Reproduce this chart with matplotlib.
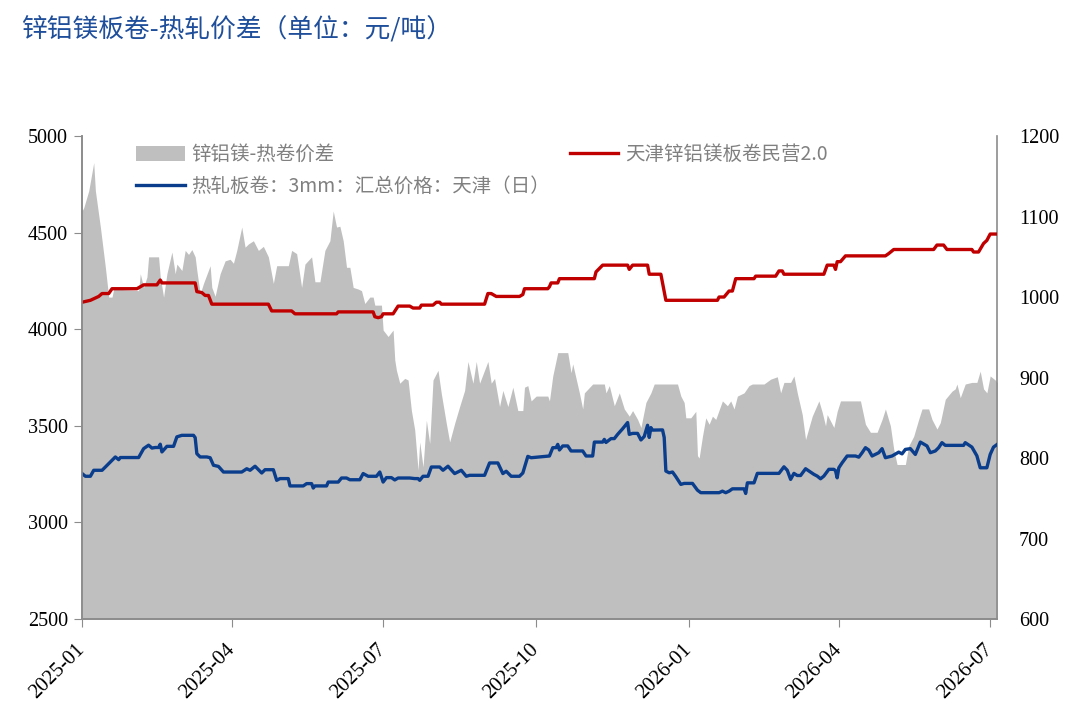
import numpy as np
import pandas as pd
import matplotlib
matplotlib.use('Agg')
import matplotlib.pyplot as plt
import matplotlib.dates as mdates

# 天津锌铝镁板卷民营2.0 (元/吨, axe gauche)
zam_dates = ['2025-01-01', '2025-01-06', '2025-01-11', '2025-01-13', '2025-01-17', '2025-01-19',
             '2025-02-03', '2025-02-05', '2025-02-07', '2025-02-15', '2025-02-17', '2025-02-18',
             '2025-03-10', '2025-03-11', '2025-03-14', '2025-03-16', '2025-03-18', '2025-03-20',
             '2025-04-23', '2025-04-25', '2025-05-07', '2025-05-09', '2025-06-03', '2025-06-04',
             '2025-06-25', '2025-06-26', '2025-06-28', '2025-06-30', '2025-07-01', '2025-07-07',
             '2025-07-10', '2025-07-17', '2025-07-19', '2025-07-23', '2025-07-24', '2025-07-31',
             '2025-08-02', '2025-08-04', '2025-08-05', '2025-08-31', '2025-09-02', '2025-09-04',
             '2025-09-07', '2025-09-21', '2025-09-23', '2025-09-24', '2025-10-08', '2025-10-09',
             '2025-10-10', '2025-10-14', '2025-10-15', '2025-11-05', '2025-11-06', '2025-11-10',
             '2025-11-25', '2025-11-26', '2025-11-28', '2025-12-07', '2025-12-08', '2025-12-15',
             '2025-12-16', '2025-12-18', '2026-01-18', '2026-01-19', '2026-01-22', '2026-01-25',
             '2026-01-27', '2026-01-29', '2026-02-09', '2026-02-10', '2026-02-22', '2026-02-24',
             '2026-02-26', '2026-02-27', '2026-03-23', '2026-03-25', '2026-03-29', '2026-03-30',
             '2026-03-31', '2026-04-02', '2026-04-05', '2026-04-29', '2026-05-01', '2026-05-04',
             '2026-05-28', '2026-05-30', '2026-06-03', '2026-06-05', '2026-06-20', '2026-06-21',
             '2026-06-24', '2026-06-27', '2026-06-29', '2026-07-01', '2026-07-06']
zam_vals = [4140, 4150, 4170, 4185, 4185, 4210,
            4210, 4220, 4230, 4230, 4255, 4240,
            4240, 4195, 4190, 4175, 4175, 4130,
            4130, 4095, 4095, 4080, 4080, 4090,
            4090, 4065, 4060, 4065, 4080, 4080,
            4120, 4120, 4110, 4110, 4125, 4125,
            4140, 4140, 4130, 4130, 4185, 4185,
            4170, 4170, 4180, 4210, 4210, 4220,
            4240, 4240, 4262, 4262, 4297, 4332,
            4332, 4310, 4332, 4332, 4285, 4285,
            4240, 4150, 4150, 4167, 4167, 4198,
            4198, 4262, 4262, 4275, 4275, 4302,
            4302, 4285, 4285, 4332, 4332, 4310,
            4350, 4350, 4380, 4380, 4392, 4413,
            4413, 4436, 4436, 4413, 4413, 4400,
            4400, 4444, 4460, 4493, 4493]

# 热轧板卷 3mm 天津 (元/吨, axe gauche)
hrc_dates = ['2025-01-01', '2025-01-03', '2025-01-06', '2025-01-08', '2025-01-13', '2025-01-15',
             '2025-01-21', '2025-01-23', '2025-01-24', '2025-02-04', '2025-02-07', '2025-02-10',
             '2025-02-12', '2025-02-14', '2025-02-16', '2025-02-17', '2025-02-18', '2025-02-21',
             '2025-02-25', '2025-02-27', '2025-03-02', '2025-03-09', '2025-03-10', '2025-03-11',
             '2025-03-13', '2025-03-17', '2025-03-19', '2025-03-21', '2025-03-24', '2025-03-27',
             '2025-04-07', '2025-04-10', '2025-04-12', '2025-04-15', '2025-04-19', '2025-04-21',
             '2025-04-26', '2025-04-28', '2025-04-30', '2025-05-05', '2025-05-06', '2025-05-14',
             '2025-05-16', '2025-05-19', '2025-05-20', '2025-05-21', '2025-05-28', '2025-05-29',
             '2025-06-04', '2025-06-06', '2025-06-09', '2025-06-11', '2025-06-17', '2025-06-19',
             '2025-06-22', '2025-06-27', '2025-06-29', '2025-07-01', '2025-07-03', '2025-07-06',
             '2025-07-08', '2025-07-10', '2025-07-17', '2025-07-20', '2025-07-22', '2025-07-23',
             '2025-07-25', '2025-07-28', '2025-07-30', '2025-08-04', '2025-08-06', '2025-08-09',
             '2025-08-13', '2025-08-17', '2025-08-20', '2025-08-22', '2025-08-31', '2025-09-03',
             '2025-09-08', '2025-09-11', '2025-09-13', '2025-09-16', '2025-09-21', '2025-09-23',
             '2025-09-26', '2025-09-28', '2025-10-09', '2025-10-11', '2025-10-13', '2025-10-14',
             '2025-10-15', '2025-10-17', '2025-10-20', '2025-10-22', '2025-10-29', '2025-10-31',
             '2025-11-04', '2025-11-05', '2025-11-10', '2025-11-11', '2025-11-12', '2025-11-15',
             '2025-11-17', '2025-11-19', '2025-11-22', '2025-11-25', '2025-11-26', '2025-11-28',
             '2025-12-01', '2025-12-03', '2025-12-05', '2025-12-07', '2025-12-08', '2025-12-09',
             '2025-12-10', '2025-12-16', '2025-12-17', '2025-12-18', '2025-12-20', '2025-12-22',
             '2025-12-24', '2025-12-27', '2025-12-29', '2026-01-03', '2026-01-06', '2026-01-08',
             '2026-01-19', '2026-01-21', '2026-01-23', '2026-01-25', '2026-01-27', '2026-02-03',
             '2026-02-04', '2026-02-05', '2026-02-09', '2026-02-11', '2026-02-24', '2026-02-27',
             '2026-03-01', '2026-03-03', '2026-03-05', '2026-03-07', '2026-03-09', '2026-03-12',
             '2026-03-15', '2026-03-17', '2026-03-19', '2026-03-21', '2026-03-23', '2026-03-26',
             '2026-03-29', '2026-03-30', '2026-03-31', '2026-04-01', '2026-04-03', '2026-04-06',
             '2026-04-11', '2026-04-13', '2026-04-15', '2026-04-17', '2026-04-19', '2026-04-21',
             '2026-04-25', '2026-04-27', '2026-04-29', '2026-05-03', '2026-05-07', '2026-05-09',
             '2026-05-11', '2026-05-14', '2026-05-17', '2026-05-20', '2026-05-24', '2026-05-26',
             '2026-05-29', '2026-05-31', '2026-06-02', '2026-06-04', '2026-06-15', '2026-06-16',
             '2026-06-20', '2026-06-23', '2026-06-25', '2026-06-29', '2026-07-01', '2026-07-03',
             '2026-07-06']
hrc_vals = [3253, 3239, 3239, 3270, 3270, 3287,
            3339, 3325, 3336, 3336, 3382, 3400,
            3385, 3388, 3388, 3405, 3365, 3394,
            3394, 3443, 3451, 3451, 3439, 3356,
            3339, 3339, 3335, 3296, 3290, 3261,
            3261, 3278, 3270, 3291, 3256, 3273,
            3273, 3218, 3227, 3227, 3189, 3189,
            3201, 3201, 3178, 3189, 3189, 3209,
            3209, 3230, 3230, 3221, 3221, 3253,
            3239, 3239, 3261, 3209, 3232, 3232,
            3220, 3230, 3230, 3227, 3227, 3218,
            3239, 3239, 3287, 3287, 3270, 3291,
            3253, 3270, 3239, 3244, 3244, 3308,
            3308, 3253, 3265, 3239, 3239, 3256,
            3342, 3335, 3344, 3387, 3387, 3404,
            3375, 3396, 3396, 3370, 3370, 3344,
            3344, 3416, 3416, 3430, 3414, 3434,
            3434, 3456, 3485, 3517, 3456, 3461,
            3461, 3427, 3445, 3503, 3440, 3491,
            3478, 3479, 3440, 3266, 3257, 3261,
            3237, 3197, 3202, 3202, 3167, 3154,
            3154, 3162, 3154, 3162, 3174, 3174,
            3150, 3205, 3205, 3254, 3254, 3288,
            3270, 3223, 3254, 3243, 3243, 3278,
            3261, 3249, 3240, 3226, 3240, 3275,
            3275, 3268, 3231, 3283, 3309, 3344,
            3344, 3338, 3361, 3387, 3375, 3344,
            3361, 3382, 3335, 3344, 3364, 3355,
            3378, 3382, 3352, 3416, 3396, 3361,
            3370, 3387, 3413, 3399, 3399, 3413,
            3390, 3345, 3283, 3283, 3352, 3390,
            3409]

# 锌铝镁-热卷价差 (元/吨, axe droite)
spread_dates = ['2025-01-01', '2025-01-02', '2025-01-05', '2025-01-08', '2025-01-09', '2025-01-12',
                '2025-01-15', '2025-01-17', '2025-01-19', '2025-01-20', '2025-02-04', '2025-02-05',
                '2025-02-07', '2025-02-09', '2025-02-10', '2025-02-16', '2025-02-17', '2025-02-19',
                '2025-02-21', '2025-02-24', '2025-02-26', '2025-02-27', '2025-03-02', '2025-03-04',
                '2025-03-06', '2025-03-08', '2025-03-10', '2025-03-11', '2025-03-13', '2025-03-15',
                '2025-03-19', '2025-03-20', '2025-03-22', '2025-03-25', '2025-03-28', '2025-03-31',
                '2025-04-02', '2025-04-04', '2025-04-07', '2025-04-09', '2025-04-11', '2025-04-14',
                '2025-04-17', '2025-04-20', '2025-04-23', '2025-04-26', '2025-04-28', '2025-05-05',
                '2025-05-07', '2025-05-10', '2025-05-13', '2025-05-15', '2025-05-19', '2025-05-21',
                '2025-05-24', '2025-05-27', '2025-05-30', '2025-06-01', '2025-06-03', '2025-06-05',
                '2025-06-07', '2025-06-09', '2025-06-11', '2025-06-13', '2025-06-16', '2025-06-18',
                '2025-06-20', '2025-06-23', '2025-06-25', '2025-06-26', '2025-06-30', '2025-07-01',
                '2025-07-04', '2025-07-07', '2025-07-08', '2025-07-09', '2025-07-11', '2025-07-14',
                '2025-07-16', '2025-07-18', '2025-07-20', '2025-07-22', '2025-07-23', '2025-07-25',
                '2025-07-27', '2025-07-29', '2025-07-31', '2025-08-03', '2025-08-05', '2025-08-08',
                '2025-08-10', '2025-08-13', '2025-08-16', '2025-08-19', '2025-08-21', '2025-08-24',
                '2025-08-26', '2025-08-28', '2025-09-02', '2025-09-04', '2025-09-06', '2025-09-09',
                '2025-09-11', '2025-09-14', '2025-09-17', '2025-09-20', '2025-09-23', '2025-09-24',
                '2025-09-26', '2025-09-28', '2025-10-01', '2025-10-08', '2025-10-09', '2025-10-11',
                '2025-10-14', '2025-10-20', '2025-10-22', '2025-10-23', '2025-10-27', '2025-10-29',
                '2025-10-30', '2025-11-04', '2025-11-11', '2025-11-12', '2025-11-14', '2025-11-17',
                '2025-11-20', '2025-11-23', '2025-11-26', '2025-11-28', '2025-12-01', '2025-12-03',
                '2025-12-06', '2025-12-09', '2025-12-11', '2025-12-25', '2025-12-27', '2025-12-29',
                '2025-12-30', '2026-01-02', '2026-01-05', '2026-01-06', '2026-01-07', '2026-01-09',
                '2026-01-11', '2026-01-13', '2026-01-15', '2026-01-17', '2026-01-21', '2026-01-24',
                '2026-01-26', '2026-01-28', '2026-01-30', '2026-02-03', '2026-02-06', '2026-02-08',
                '2026-02-15', '2026-02-19', '2026-02-23', '2026-02-25', '2026-02-27', '2026-03-03',
                '2026-03-05', '2026-03-07', '2026-03-10', '2026-03-12', '2026-03-16', '2026-03-20',
                '2026-03-22', '2026-03-24', '2026-03-25', '2026-03-29', '2026-03-31', '2026-04-02',
                '2026-04-14', '2026-04-17', '2026-04-20', '2026-04-24', '2026-04-27', '2026-04-29',
                '2026-04-30', '2026-05-02', '2026-05-04', '2026-05-06', '2026-05-11', '2026-05-13',
                '2026-05-16', '2026-05-19', '2026-05-21', '2026-05-25', '2026-05-27', '2026-05-30',
                '2026-06-01', '2026-06-04', '2026-06-08', '2026-06-10', '2026-06-11', '2026-06-13',
                '2026-06-16', '2026-06-20', '2026-06-23', '2026-06-25', '2026-06-27', '2026-06-29',
                '2026-07-01', '2026-07-04', '2026-07-06']
spread_vals = [1107, 1111, 1132, 1167, 1132, 1087,
               1037, 1000, 1000, 1010, 1008, 1029,
               1012, 1025, 1050, 1050, 1025, 1000,
               1029, 1056, 1029, 1041, 1033, 1058,
               1053, 1059, 1050, 1033, 1004, 1017,
               1039, 1012, 1001, 1029, 1045, 1047,
               1042, 1058, 1087, 1062, 1066, 1070,
               1058, 1063, 1050, 1017, 1039, 1039,
               1058, 1054, 1012, 1041, 1050, 1019,
               1019, 1058, 1070, 1107, 1087, 1088,
               1070, 1037, 1037, 1012, 1010, 1008,
               992, 1000, 1000, 990, 990, 959,
               951, 959, 922, 909, 893, 899,
               897, 859, 835, 785, 820, 789,
               847, 818, 897, 909, 880, 843,
               820, 843, 864, 884, 920, 893,
               920, 893, 920, 893, 899, 864,
               884, 864, 888, 859, 859, 888,
               890, 871, 877, 877, 871, 902,
               931, 931, 906, 917, 881, 861,
               881, 892, 892, 881, 890, 865,
               881, 861, 852, 859, 848, 838,
               869, 881, 892, 892, 877, 869,
               850, 850, 858, 803, 800, 827,
               850, 842, 852, 848, 871, 865,
               871, 861, 877, 881, 890, 892,
               892, 898, 901, 881, 894, 894,
               902, 881, 854, 823, 852, 871,
               857, 840, 854, 838, 858, 871,
               871, 842, 832, 832, 848, 861,
               854, 840, 811, 792, 792, 815,
               827, 848, 861, 861, 848, 836,
               844, 873, 883, 886, 892, 875,
               892, 894, 894, 908, 886, 881,
               902, 897, 892]

plt.rcParams['font.family'] = ['Noto Sans CJK SC', 'DejaVu Sans']

fig = plt.figure(figsize=(10.8, 7.24), dpi=100)
ax = fig.add_axes([0.076, 0.145, 0.847, 0.667])
ax2 = ax.twinx()

ax2.fill_between(pd.to_datetime(spread_dates), 600, spread_vals, color='#BFBFBF', lw=0,
                 label='锌铝镁-热卷价差')
ax.plot(pd.to_datetime(hrc_dates), hrc_vals, color='#0A3D8C', lw=2.4,
        label='热轧板卷：3mm：汇总价格：天津（日）')
ax.plot(pd.to_datetime(zam_dates), zam_vals, color='#C00000', lw=2.4,
        label='天津锌铝镁板卷民营2.0')

# lignes au-dessus de la surface grise
ax.set_zorder(ax2.get_zorder() + 1)
ax.patch.set_visible(False)

ax.set_ylim(2500, 5000)
ax.set_yticks(np.arange(2500, 5001, 500))
ax2.set_ylim(600, 1200)
ax2.set_yticks(np.arange(600, 1201, 100))
ax.set_xlim(pd.Timestamp('2025-01-01'), pd.Timestamp('2026-07-05'))
ax.xaxis.set_major_locator(mdates.MonthLocator(bymonth=[1, 4, 7, 10]))
ax.xaxis.set_major_formatter(mdates.DateFormatter('%Y-%m'))

for a in (ax, ax2):
    for s in a.spines.values():
        s.set_color('#8C8C8C')
        s.set_linewidth(1.2)
    a.spines['top'].set_visible(False)
ax.spines['right'].set_visible(False)

ax.tick_params(axis='y', length=6, color='#8C8C8C', labelsize=14.5, pad=4)
ax.tick_params(axis='x', length=6, color='#8C8C8C', labelsize=15, pad=14)
ax2.tick_params(axis='y', length=0, labelsize=14.5, pad=16)
for lab in ax.get_yticklabels() + ax2.get_yticklabels() + ax.get_xticklabels():
    lab.set_fontfamily('Liberation Serif')
for lab in ax.get_xticklabels():
    lab.set_rotation(45)
    lab.set_ha('right')
    lab.set_va('center')
    lab.set_rotation_mode('anchor')

h1, l1 = ax2.get_legend_handles_labels()
h2, l2 = ax.get_legend_handles_labels()
leg = ax.legend(h1 + h2, l1 + l2, ncol=2, loc='upper left', bbox_to_anchor=(0.04, 1.02),
                frameon=False, fontsize=14, handlelength=2.5, handleheight=0.8,
                columnspacing=1.0, labelspacing=0.55, handletextpad=0.35)
for t in leg.get_texts():
    t.set_color('#808080')

fig.text(0.02, 0.958, '锌铝镁板卷-热轧价差（单位：元/吨）', color='#1F4E9A', fontsize=18.5,
         va='center', ha='left')

fig.savefig('out.png', dpi=100)
